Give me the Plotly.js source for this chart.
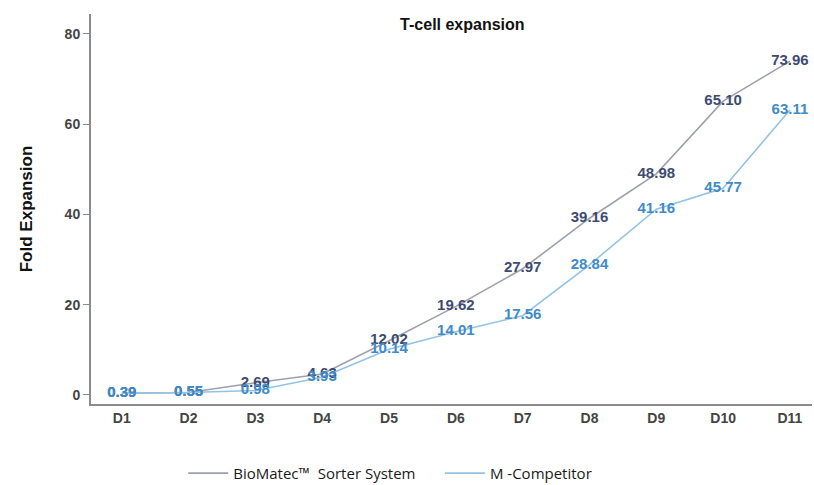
<!DOCTYPE html>
<html><head><meta charset="utf-8">
<script src="https://cdn.plot.ly/plotly-3.0.1.min.js"></script>
<style>html,body{margin:0;padding:0;background:#fff}#chart{width:814px;height:485px}</style>
</head><body><div id="chart"></div>
<script>
var days = ['D1','D2','D3','D4','D5','D6','D7','D8','D9','D10','D11'];
var bioMatec = [0.39, 0.55, 2.69, 4.63, 12.02, 19.62, 27.97, 39.16, 48.98, 65.10, 73.96];
var competitor = [0.39, 0.55, 0.98, 3.93, 10.14, 14.01, 17.56, 28.84, 41.16, 45.77, 63.11];
var yTicks = [0, 20, 40, 60, 80];

var fmt = function(v){ return v.toFixed(2); };
var traces = [
  {x: days, y: bioMatec, name: 'BioMatec™&nbsp; Sorter System&nbsp;&nbsp;&nbsp;&nbsp;&nbsp;', mode: 'lines+text',
   text: bioMatec.map(fmt), textposition: 'middle center',
   textfont: {family: 'Liberation Sans, Arial, sans-serif', size: 15, color: '#3d4b72', weight: 'bold'},
   line: {color: '#9ea1ad', width: 1.6}, cliponaxis: false},
  {x: days, y: competitor, name: 'M -Competitor', mode: 'lines+text',
   text: competitor.map(fmt), textposition: 'middle center',
   textfont: {family: 'Liberation Sans, Arial, sans-serif', size: 15, color: '#3f8bc9', weight: 'bold'},
   line: {color: '#93c3e6', width: 1.6}, cliponaxis: false}
];
var layout = {
  width: 814, height: 485,
  margin: {l: 91, r: 2, t: 14, b: 81, autoexpand: false},
  paper_bgcolor: '#fff', plot_bgcolor: '#fff',
  showlegend: true,
  legend: {orientation: 'h', x: 0.415, xanchor: 'center', y: -0.178, yanchor: 'middle',
    itemwidth: 40,
    font: {family: 'Open Sans, Noto Sans, sans-serif', size: 15, color: '#1a1a1a'}, traceorder: 'normal'},
  title: {text: '<b>T-cell expansion</b>', x: 0.568, xanchor: 'center', y: 0.95, yanchor: 'middle',
    font: {family: 'Liberation Sans, Arial, sans-serif', size: 16, color: '#111'}},
  xaxis: {type: 'category', range: [-0.46, 10.33], showgrid: false, zeroline: false,
    showline: true, linecolor: '#8a8a8a', linewidth: 2, ticks: '',
    tickfont: {family: 'Liberation Sans, Arial, sans-serif', size: 14, color: '#444', weight: 'bold'}},
  yaxis: {range: [-2, 84.4], tickvals: yTicks, showgrid: false, zeroline: false,
    showline: true, linecolor: '#8a8a8a', linewidth: 2, ticks: 'outside', ticklen: 6, tickcolor: '#8a8a8a',
    tickfont: {family: 'Liberation Sans, Arial, sans-serif', size: 14, color: '#444', weight: 'bold'},
    title: {text: '<b>Fold Expansion</b>', standoff: 28,
      font: {family: 'Liberation Sans, Arial, sans-serif', size: 17, color: '#111'}}}
};
Plotly.newPlot('chart', traces, layout, {displayModeBar: false});
</script></body></html>
